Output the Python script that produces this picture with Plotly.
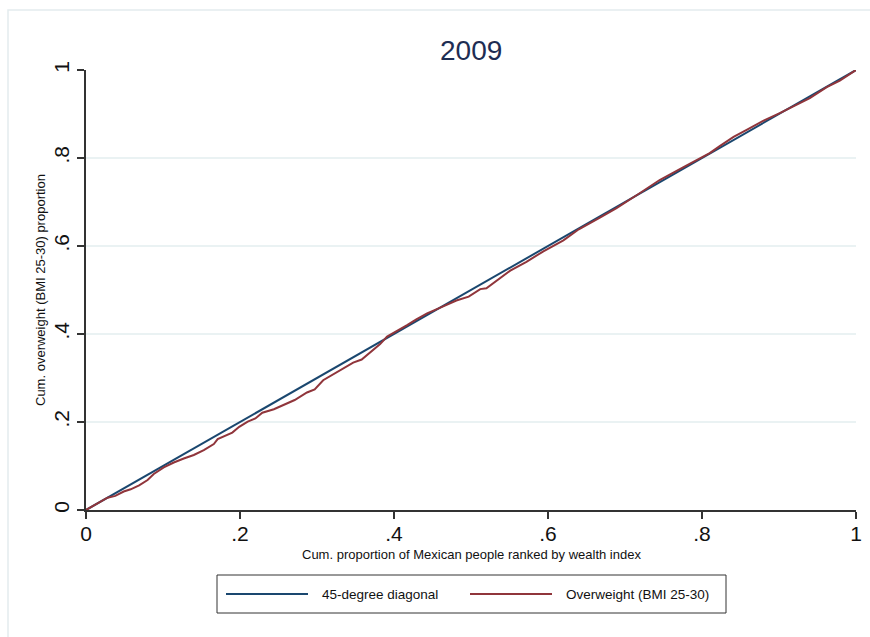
import plotly.graph_objects as go

# Cumulative share of population ranked by wealth index (x) and
# cumulative share of overweight (BMI 25-30) people (y), 2009
pop_share = [0.0, 0.015, 0.028, 0.038, 0.049, 0.058, 0.069, 0.080, 0.088, 0.101,
             0.114, 0.127, 0.140, 0.153, 0.166, 0.171, 0.183, 0.190, 0.199, 0.210,
             0.220, 0.229, 0.244, 0.257, 0.271, 0.287, 0.297, 0.308, 0.321, 0.334,
             0.347, 0.358, 0.369, 0.382, 0.391, 0.406, 0.417, 0.429, 0.443, 0.455,
             0.468, 0.481, 0.497, 0.512, 0.520, 0.551, 0.572, 0.594, 0.620, 0.640,
             0.668, 0.689, 0.720, 0.745, 0.776, 0.797, 0.810, 0.823, 0.841, 0.858,
             0.880, 0.901, 0.919, 0.940, 0.962, 0.979, 1.0]
overweight_share = [0.0, 0.015, 0.028, 0.032, 0.042, 0.047, 0.056, 0.068, 0.082, 0.097,
                    0.108, 0.117, 0.125, 0.136, 0.150, 0.161, 0.170, 0.176, 0.189, 0.201,
                    0.208, 0.221, 0.229, 0.239, 0.250, 0.267, 0.274, 0.295, 0.309, 0.321,
                    0.335, 0.342, 0.358, 0.377, 0.394, 0.408, 0.420, 0.433, 0.447, 0.456,
                    0.466, 0.476, 0.485, 0.502, 0.504, 0.544, 0.564, 0.588, 0.613, 0.638,
                    0.665, 0.686, 0.721, 0.750, 0.779, 0.799, 0.811, 0.827, 0.848, 0.864,
                    0.885, 0.902, 0.917, 0.936, 0.961, 0.976, 1.0]
diagonal = [0.0, 1.0]

tick_vals = [0, 0.2, 0.4, 0.6, 0.8, 1]
tick_text = ["0", ".2", ".4", ".6", ".8", "1"]

series_names = ["45-degree diagonal", "Overweight (BMI 25-30)"]
BLUE = "#1a476f"
MAROON = "#90353b"
FONT = "Liberation Sans, Arial, Helvetica, sans-serif"

fig = go.Figure()
fig.add_trace(go.Scatter(x=diagonal, y=diagonal, mode="lines", name=series_names[0],
                         line=dict(color=BLUE, width=2), showlegend=False))
fig.add_trace(go.Scatter(x=pop_share, y=overweight_share, mode="lines", name=series_names[1],
                         line=dict(color=MAROON, width=2), showlegend=False))

W, H = 870, 637
L, R, T, B = 86, 14, 70, 127
pw, ph = W - L - R, H - T - B


def px(x):
    return (x - L) / pw


def py(y):
    return (H - B - y) / ph


LEG_Y = 594
shapes = [
    # outer graph region border
    dict(type="rect", xref="paper", yref="paper", x0=px(8), x1=px(W + 20), y0=py(H + 20), y1=py(10),
         line=dict(color="#e3ecee", width=1.5), layer="below"),
    # legend box
    dict(type="rect", xref="paper", yref="paper", x0=px(217), x1=px(726), y0=py(613), y1=py(575),
         line=dict(color="#333333", width=1), fillcolor="white"),
    dict(type="line", xref="paper", yref="paper", x0=px(226), x1=px(308), y0=py(LEG_Y), y1=py(LEG_Y),
         line=dict(color=BLUE, width=2)),
    dict(type="line", xref="paper", yref="paper", x0=px(470), x1=px(552), y0=py(LEG_Y), y1=py(LEG_Y),
         line=dict(color=MAROON, width=2)),
]

annotations = [
    dict(text="2009", xref="paper", yref="paper", x=px(471), y=py(51), showarrow=False,
         xanchor="center", yanchor="middle", font=dict(family=FONT, size=28, color="#1e2d53")),
    dict(text="Cum. proportion of Mexican people ranked by wealth index", xref="paper", yref="paper",
         x=0.5, y=py(554), showarrow=False, xanchor="center", yanchor="middle",
         font=dict(family=FONT, size=13, color="#111111")),
    dict(text="Cum. overweight (BMI 25-30) proportion", xref="paper", yref="paper",
         x=px(40), y=0.5, showarrow=False, textangle=-90, xanchor="center", yanchor="middle",
         font=dict(family=FONT, size=13, color="#111111")),
    dict(text=series_names[0], xref="paper", yref="paper", x=px(320), y=py(LEG_Y), showarrow=False,
         xanchor="left", yanchor="middle", font=dict(family=FONT, size=13.5, color="#111111")),
    dict(text=series_names[1], xref="paper", yref="paper", x=px(564), y=py(LEG_Y), showarrow=False,
         xanchor="left", yanchor="middle", font=dict(family=FONT, size=13.5, color="#111111")),
]

fig.update_layout(
    width=W, height=H,
    margin=dict(l=L, r=R, t=T, b=B, pad=0, autoexpand=False),
    paper_bgcolor="white", plot_bgcolor="white",
    shapes=shapes, annotations=annotations,
    showlegend=False,
    xaxis=dict(range=[0, 1], tickvals=tick_vals, ticktext=tick_text, showgrid=False,
               zeroline=False, showline=True, linecolor="#333333", linewidth=1.5,
               ticks="outside", ticklen=7, tickcolor="#333333", tickwidth=1.5,
               automargin=False, ticklabelstandoff=-3,
               tickfont=dict(family=FONT, size=21, color="#111111")),
    yaxis=dict(range=[0, 1], tickvals=tick_vals, ticktext=tick_text, showgrid=True,
               gridcolor="#eaf2f3", gridwidth=1.5, zeroline=False, showline=True,
               linecolor="#333333", linewidth=1.5, ticks="outside", ticklen=7,
               tickcolor="#333333", tickwidth=1.5, tickangle=-90, automargin=False,
               tickfont=dict(family=FONT, size=21, color="#111111")),
)

fig.write_html("out.html")
